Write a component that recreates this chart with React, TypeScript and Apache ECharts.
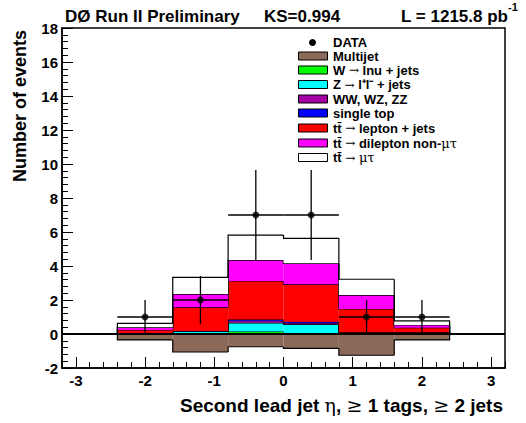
import React, { useEffect, useRef } from "react";
import * as echarts from "echarts";

// Bin edges (eta)
const binLo = [-2.4, -1.6, -0.8, 0.0, 0.8, 1.6];
const binHi = [-1.6, -0.8, 0.0, 0.8, 1.6, 2.4];
const binCenter = [-2.0, -1.2, -0.4, 0.4, 1.2, 2.0];

// Background / signal components (per bin, events)
const multijet = [-0.35, -1.06, -0.75, -0.84, -1.25, -0.35];
const wjets = [0.01, 0.02, 0.15, 0.02, 0.02, 0.01];
const zjets = [0.01, 0.14, 0.51, 0.55, 0.04, 0.03];
const diboson = [0.01, 0.01, 0.12, 0.08, 0.02, 0.03];
const singleTop = [0.01, 0.01, 0.08, 0.07, 0.02, 0.03];
const ttLepJets = [0.2, 1.39, 2.26, 2.2, 1.37, 0.27];
const ttDilep = [0.15, 0.78, 1.23, 1.24, 0.82, 0.16];
const ttMuTau = [0.24, 0.98, 1.47, 1.47, 0.93, 0.24];

// Data
const dataCounts = [1, 2, 7, 7, 1, 1];
const dataErr = [1.0, 1.41, 2.65, 2.65, 1.0, 1.0];

const xMajorTicks = [-3, -2, -1, 0, 1, 2, 3];

const FONT = "Liberation Sans, Arial, Helvetica, sans-serif";

const layerDefs = [
  { name: "W → lnu + jets", values: wjets, color: "#00ff00" },
  { name: "Z → l⁺l⁻ + jets", values: zjets, color: "#00ffff" },
  { name: "WW, WZ, ZZ", values: diboson, color: "#a300a3" },
  { name: "single top", values: singleTop, color: "#0000ff" },
  { name: "tt̄ → lepton + jets", values: ttLepJets, color: "#ff0000" },
  { name: "tt̄ → dilepton non-μτ", values: ttDilep, color: "#ff00ff" },
  { name: "tt̄ → μτ", values: ttMuTau, color: "#ffffff" },
];

function buildLayerData(base: number[], top: number[]) {
  return binLo.map((lo, i) => [lo, binHi[i], base[i], top[i], i === 0 ? 0 : top[i - 1]]);
}

function makeRenderItem(color: string, n: number) {
  return (params: any, api: any) => {
    const lo = api.value(0);
    const hi = api.value(1);
    const base = api.value(2);
    const top = api.value(3);
    const prev = api.value(4);
    const i = params.dataIndex;
    const a = api.coord([lo, top]);
    const b = api.coord([hi, base]);
    const pts: number[][] = [api.coord([lo, prev]), api.coord([lo, top]), api.coord([hi, top])];
    if (i === n - 1) pts.push(api.coord([hi, 0]));
    return {
      type: "group",
      children: [
        {
          type: "rect",
          shape: {
            x: Math.min(a[0], b[0]),
            y: Math.min(a[1], b[1]),
            width: Math.abs(b[0] - a[0]),
            height: Math.abs(b[1] - a[1]),
          },
          style: { fill: color, stroke: "none" },
        },
        {
          type: "polyline",
          shape: { points: pts },
          style: { fill: "none", stroke: "#000", lineWidth: 1.2 },
        },
      ],
    };
  };
}

export default function App() {
  const ref = useRef<HTMLDivElement>(null);
  useEffect(() => {
    if (!ref.current) return;
    const chart = echarts.init(ref.current, null, { renderer: "svg" });
    const n = binLo.length;

    const series: any[] = [];
    // Multijet (negative)
    series.push({
      type: "custom",
      name: "Multijet",
      xAxisIndex: 0,
      yAxisIndex: 0,
      renderItem: makeRenderItem("#8c6a5a", n),
      data: buildLayerData(binLo.map(() => 0), multijet),
      z: 2,
    });
    let cum = binLo.map(() => 0);
    layerDefs.forEach((ld) => {
      const next = cum.map((c, i) => c + ld.values[i]);
      series.push({
        type: "custom",
        name: ld.name,
        xAxisIndex: 0,
        yAxisIndex: 0,
        renderItem: makeRenderItem(ld.color, n),
        data: buildLayerData(cum, next),
        z: 2,
      });
      cum = next;
    });

    // Error bars
    series.push({
      type: "custom",
      name: "DATA err",
      xAxisIndex: 0,
      yAxisIndex: 0,
      z: 5,
      renderItem: (params: any, api: any) => {
        const xc = api.value(0);
        const v = api.value(1);
        const e = api.value(2);
        const lo = api.value(3);
        const hi = api.value(4);
        const p1 = api.coord([xc, v - e]);
        const p2 = api.coord([xc, v + e]);
        const h1 = api.coord([lo, v]);
        const h2 = api.coord([hi, v]);
        return {
          type: "group",
          children: [
            { type: "line", shape: { x1: p1[0], y1: p1[1], x2: p2[0], y2: p2[1] }, style: { stroke: "#000", lineWidth: 1.3 } },
            { type: "line", shape: { x1: h1[0], y1: h1[1], x2: h2[0], y2: h2[1] }, style: { stroke: "#000", lineWidth: 1.3 } },
          ],
        };
      },
      data: binCenter.map((c, i) => [c, dataCounts[i], dataErr[i], binLo[i], binHi[i]]),
    });

    // Data markers + zero line
    series.push({
      type: "scatter",
      name: "DATA",
      xAxisIndex: 0,
      yAxisIndex: 0,
      z: 6,
      symbol: "circle",
      symbolSize: 7,
      itemStyle: { color: "#000" },
      data: binCenter.map((c, i) => [c, dataCounts[i]]),
      markLine: {
        silent: true,
        symbol: "none",
        label: { show: false },
        lineStyle: { color: "#000", width: 2, type: "solid" },
        data: [{ yAxis: 0 }],
        z: 4,
      },
    });

    const legendRows = [
      { label: "DATA", kind: "marker", color: "#000" },
      { label: "Multijet", kind: "box", color: "#8c6a5a" },
      ...layerDefs.map((l) => ({ label: l.name, kind: "box", color: l.color })),
    ];
    const rowY = [42.5, 56, 70, 84.5, 99, 113, 128, 143, 157.5];

    const fmtLegend = (s: string) =>
      s.replace(/→/g, "{s|→}").replace(/μτ/g, "{g|μτ}");

    const graphics: any[] = [];
    legendRows.forEach((r, i) => {
      const y = rowY[i];
      if (r.kind === "marker") {
        graphics.push({ type: "circle", shape: { cx: 312.5, cy: y, r: 3.5 }, style: { fill: "#000" } });
      } else {
        graphics.push({
          type: "rect",
          shape: { x: 298.5, y: y - 4, width: 29, height: 8 },
          style: { fill: r.color, stroke: "#000", lineWidth: 1 },
        });
      }
      graphics.push({
        type: "text",
        x: 333,
        y: y,
        style: {
          text: fmtLegend(r.label),
          fontFamily: FONT,
          fontWeight: "bold",
          fontSize: 13,
          fill: "#000",
          textVerticalAlign: "middle",
          rich: {
            s: { fontFamily: "DejaVu Serif, serif", fontWeight: "normal", fontSize: 12 },
            g: { fontFamily: "DejaVu Serif, serif", fontWeight: "normal", fontSize: 13 },
          },
        },
      });
    });

    // Titles
    graphics.push({
      type: "text",
      x: 65,
      y: 16,
      style: { text: "DØ Run II Preliminary", fontFamily: FONT, fontWeight: "bold", fontSize: 17, fill: "#000", textVerticalAlign: "middle" },
    });
    graphics.push({
      type: "text",
      x: 264,
      y: 16,
      style: { text: "KS=0.994", fontFamily: FONT, fontWeight: "bold", fontSize: 17, fill: "#000", textVerticalAlign: "middle" },
    });
    graphics.push({
      type: "text",
      x: 508,
      y: 16,
      style: { text: "L = 1215.8 pb", fontFamily: FONT, fontWeight: "bold", fontSize: 17, fill: "#000", textAlign: "right", textVerticalAlign: "middle" },
    });
    graphics.push({
      type: "text",
      x: 508,
      y: 7,
      style: { text: "-1", fontFamily: FONT, fontWeight: "bold", fontSize: 11, fill: "#000", textAlign: "left", textVerticalAlign: "middle" },
    });
    // Axis titles
    graphics.push({
      type: "text",
      x: 20,
      y: 106,
      rotation: Math.PI / 2,
      style: { text: "Number of events", fontFamily: FONT, fontWeight: "bold", fontSize: 18, fill: "#000", textAlign: "center", textVerticalAlign: "middle" },
    });
    graphics.push({
      type: "text",
      x: 503,
      y: 405,
      style: {
        text: "Second lead jet {s|η}, {s|≥} 1 tags, {s|≥} 2 jets",
        fontFamily: FONT,
        fontWeight: "bold",
        fontSize: 19,
        fill: "#000",
        textAlign: "right",
        textVerticalAlign: "middle",
        rich: { s: { fontFamily: "DejaVu Serif, serif", fontWeight: "normal", fontSize: 19 } },
      },
    });

    chart.setOption({
      animation: false,
      backgroundColor: "#fff",
      grid: {
        left: 62,
        right: 21,
        top: 28,
        bottom: 55,
        show: true,
        borderColor: "#000",
        borderWidth: 1.5,
        backgroundColor: "transparent",
      },
      xAxis: [
        {
          type: "value",
          min: -3.2,
          max: 3.2,
          interval: 0.2,
          position: "bottom",
          axisLine: { show: true, onZero: false, lineStyle: { color: "#000", width: 1.5 } },
          axisTick: { show: true, inside: true, length: 6, lineStyle: { color: "#000", width: 1 } },
          axisLabel: { show: false },
          splitLine: { show: false },
        },
        {
          type: "value",
          min: -3.2,
          max: 3.2,
          position: "bottom",
          axisLine: { show: false, onZero: false },
          axisTick: { show: true, inside: true, length: 11, customValues: xMajorTicks, lineStyle: { color: "#000", width: 1 } },
          axisLabel: {
            show: true,
            customValues: xMajorTicks,
            margin: 5,
            fontFamily: FONT,
            fontWeight: "bold",
            fontSize: 15,
            color: "#000",
          },
          splitLine: { show: false },
        },
      ],
      yAxis: [
        {
          type: "value",
          min: -2,
          max: 18,
          interval: 2,
          axisLine: { show: true, onZero: false, lineStyle: { color: "#000", width: 1.5 } },
          axisTick: { show: true, inside: true, length: 11, lineStyle: { color: "#000", width: 1 } },
          minorTick: { show: true, splitNumber: 5, length: 6, lineStyle: { color: "#000", width: 1 } },
          axisLabel: { margin: 4, fontFamily: FONT, fontWeight: "bold", fontSize: 15, color: "#000" },
          splitLine: { show: false },
        },
      ],
      graphic: graphics,
      series,
    });
    return () => chart.dispose();
  }, []);
  return (
    <div
      ref={ref}
      style={{ position: "fixed", left: 0, top: 0, width: 526, height: 423, background: "#fff" }}
    />
  );
}
